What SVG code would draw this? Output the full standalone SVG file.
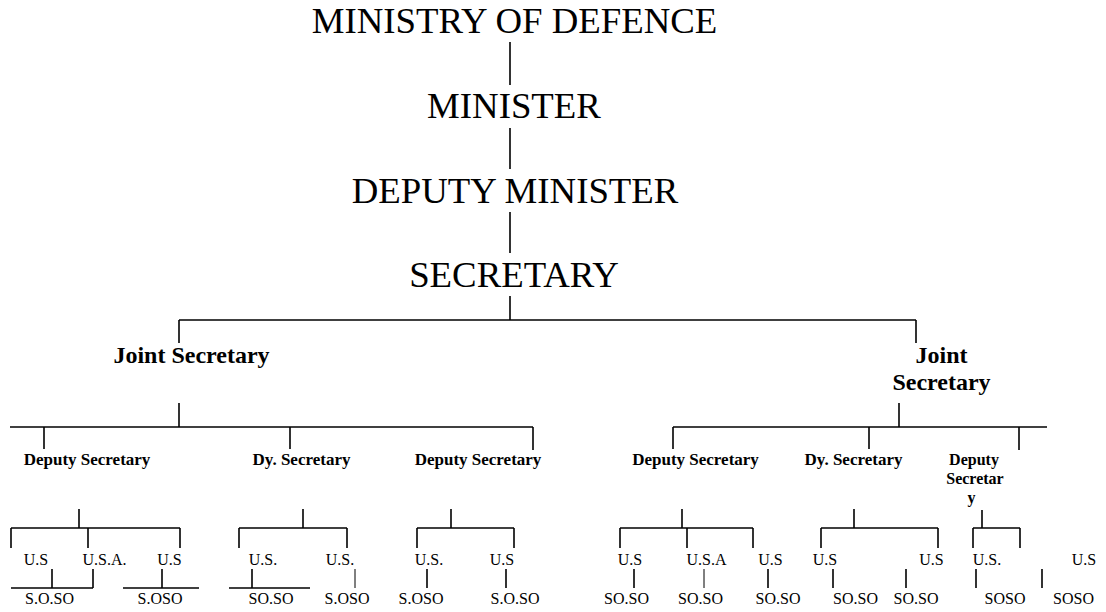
<svg xmlns="http://www.w3.org/2000/svg" width="1106" height="612" viewBox="0 0 1106 612">
<style>
text{font-family:"Liberation Serif","Times New Roman",serif;fill:#000;text-anchor:middle}
.t1{font-size:36.8px}
.t2{font-size:24px;font-weight:bold}
.t3{font-size:17px;font-weight:bold}
.t3s{font-size:16px;font-weight:bold}
.t4{font-size:16px}
.c line{stroke:#000;stroke-width:1.6}
.c line.thin{stroke-width:1}
</style>
<rect width="1106" height="612" fill="#fff"/>
<g class="c" id="connectors">
<line x1="510" y1="42" x2="510" y2="85"/>
<line x1="510" y1="128" x2="510" y2="169"/>
<line x1="510" y1="212" x2="510" y2="253"/>
<line x1="510" y1="296" x2="510" y2="320"/>
<line x1="179" y1="320" x2="916" y2="320"/>
<line x1="179" y1="320" x2="179" y2="343"/>
<line x1="916" y1="320" x2="916" y2="343"/>
<line x1="179" y1="403" x2="179" y2="427"/>
<line x1="10" y1="427" x2="533" y2="427"/>
<line x1="44" y1="427" x2="44" y2="449"/>
<line x1="290" y1="427" x2="290" y2="449"/>
<line x1="533" y1="427" x2="533" y2="450"/>
<line x1="899" y1="403" x2="899" y2="427"/>
<line x1="673" y1="427" x2="1047" y2="427"/>
<line x1="673" y1="427" x2="673" y2="449"/>
<line x1="869" y1="427" x2="869" y2="449"/>
<line x1="1019" y1="427" x2="1019" y2="450"/>
<line x1="79" y1="509" x2="79" y2="528"/>
<line x1="11" y1="528" x2="180" y2="528"/>
<line x1="11" y1="528" x2="11" y2="548"/>
<line x1="88" y1="528" x2="88" y2="548"/>
<line x1="180" y1="528" x2="180" y2="548"/>
<line x1="52" y1="569" x2="52" y2="588"/>
<line x1="93" y1="569" x2="93" y2="588"/>
<line x1="11" y1="588" x2="93" y2="588"/>
<line x1="162" y1="569" x2="162" y2="588"/>
<line x1="123" y1="588" x2="199" y2="588"/>
<line x1="303" y1="509" x2="303" y2="528"/>
<line x1="239" y1="528" x2="347" y2="528"/>
<line x1="239" y1="528" x2="239" y2="548"/>
<line x1="347" y1="528" x2="347" y2="548"/>
<line x1="252" y1="569" x2="252" y2="588"/>
<line x1="229" y1="588" x2="310" y2="588"/>
<line x1="355" y1="569" x2="355" y2="588" class="thin"/>
<line x1="451" y1="509" x2="451" y2="528"/>
<line x1="417" y1="528" x2="514" y2="528"/>
<line x1="417" y1="528" x2="417" y2="548"/>
<line x1="514" y1="528" x2="514" y2="548"/>
<line x1="427" y1="569" x2="427" y2="588"/>
<line x1="506" y1="569" x2="506" y2="588"/>
<line x1="682" y1="509" x2="682" y2="528"/>
<line x1="620" y1="528" x2="753" y2="528"/>
<line x1="620" y1="528" x2="620" y2="548"/>
<line x1="687" y1="528" x2="687" y2="548"/>
<line x1="753" y1="528" x2="753" y2="548"/>
<line x1="634" y1="569" x2="634" y2="588"/>
<line x1="704" y1="569" x2="704" y2="588" class="thin"/>
<line x1="768" y1="569" x2="768" y2="588"/>
<line x1="854" y1="509" x2="854" y2="528"/>
<line x1="821" y1="528" x2="938" y2="528"/>
<line x1="821" y1="528" x2="821" y2="548"/>
<line x1="938" y1="528" x2="938" y2="548"/>
<line x1="833" y1="569" x2="833" y2="588"/>
<line x1="906" y1="569" x2="906" y2="588"/>
<line x1="982" y1="510" x2="982" y2="528"/>
<line x1="973" y1="528" x2="1020" y2="528"/>
<line x1="973" y1="528" x2="973" y2="548"/>
<line x1="1020" y1="528" x2="1020" y2="548"/>
<line x1="976" y1="569" x2="976" y2="588"/>
<line x1="1042" y1="569" x2="1042" y2="588"/>
</g>
<g id="ministry"><text class="t1" x="514.5" y="33">MINISTRY OF DEFENCE</text></g>
<g id="minister"><text class="t1" x="514" y="118">MINISTER</text></g>
<g id="deputy-minister"><text class="t1" x="515" y="203">DEPUTY MINISTER</text></g>
<g id="secretary"><text class="t1" x="514" y="287">SECRETARY</text></g>
<g id="js-left"><text class="t2" x="191.5" y="363">Joint Secretary</text></g>
<g id="js-right"><text class="t2" x="941.5" y="363">Joint</text><text class="t2" x="941.5" y="390">Secretary</text></g>
<g id="ds1"><text class="t3" x="87" y="465">Deputy Secretary</text></g>
<g id="ds2"><text class="t3" x="301.5" y="465">Dy. Secretary</text></g>
<g id="ds3"><text class="t3" x="478" y="465">Deputy Secretary</text></g>
<g id="ds4"><text class="t3" x="695.5" y="465">Deputy Secretary</text></g>
<g id="ds5"><text class="t3" x="853.5" y="465">Dy. Secretary</text></g>
<g id="ds6"><text class="t3s" x="974" y="465">Deputy</text><text class="t3s" x="975" y="484">Secretar</text><text class="t3s" x="971.5" y="503">y</text></g>
<g id="us-row">
<text class="t4" x="36" y="565">U.S</text>
<text class="t4" x="104.5" y="565">U.S.A.</text>
<text class="t4" x="169.5" y="565">U.S</text>
<text class="t4" x="263" y="565">U.S.</text>
<text class="t4" x="340" y="565">U.S.</text>
<text class="t4" x="429" y="565">U.S.</text>
<text class="t4" x="502" y="565">U.S</text>
<text class="t4" x="630" y="565">U.S</text>
<text class="t4" x="706.5" y="565">U.S.A</text>
<text class="t4" x="770.5" y="565">U.S</text>
<text class="t4" x="825" y="565">U.S</text>
<text class="t4" x="931.5" y="565">U.S</text>
<text class="t4" x="987" y="565">U.S.</text>
<text class="t4" x="1084" y="565">U.S</text>
</g>
<g id="so-row">
<text class="t4" x="49.5" y="604">S.O.SO</text>
<text class="t4" x="160" y="604">S.OSO</text>
<text class="t4" x="271" y="604">SO.SO</text>
<text class="t4" x="347" y="604">S.OSO</text>
<text class="t4" x="421" y="604">S.OSO</text>
<text class="t4" x="515" y="604">S.O.SO</text>
<text class="t4" x="626.5" y="604">SO.SO</text>
<text class="t4" x="700.5" y="604">SO.SO</text>
<text class="t4" x="778" y="604">SO.SO</text>
<text class="t4" x="855.5" y="604">SO.SO</text>
<text class="t4" x="916" y="604">SO.SO</text>
<text class="t4" x="1005" y="604">SOSO</text>
<text class="t4" x="1073.5" y="604">SOSO</text>
</g>
</svg>
